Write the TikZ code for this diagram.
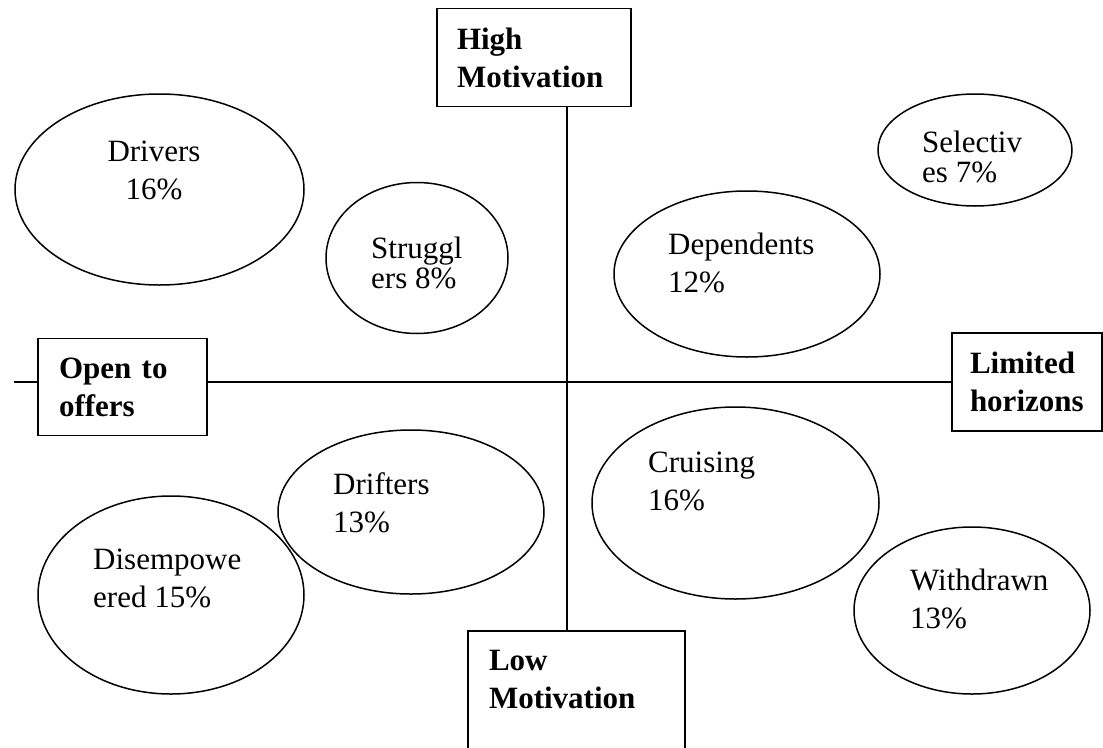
\documentclass[tikz,border=0pt]{standalone}
\usepackage{fontspec}
\setmainfont{Liberation Serif}
\usetikzlibrary{shapes.geometric}

\begin{document}
\begin{tikzpicture}[x=1pt,y=-1pt,
    every node/.style={font=\fontsize{31}{38}\selectfont},
    seg/.style={draw,ellipse,line width=1.5pt,inner sep=0pt},
    lbl/.style={inner sep=0pt,anchor=base west,align=left},
    tight/.style={font=\fontsize{31}{30}\selectfont},
    axbox/.style={draw,line width=1.8pt,align=left,inner ysep=19pt,font=\bfseries\fontsize{31}{38}\selectfont},
    axis/.style={line width=1.5pt}]
    \useasboundingbox (0,0) rectangle (1103,747);
    \clip (0,0) rectangle (1103,747);
    % axis boxes
    \node[axbox,inner xsep=20pt,text width=154pt,minimum height=97pt] (hi) at (534,57.5) {High\\Motivation};
    \node[axbox,inner xsep=21pt,text width=127pt,minimum height=96pt] (open) at (122.5,387) {Open to\\offers};
    \node[axbox,inner xsep=18pt,text width=114pt,minimum height=96pt] (lim) at (1027,382) {Limited\\horizons};
    \node[axbox,inner xsep=21pt,text width=175pt,text depth=100pt,anchor=north] (lo) at (576.5,630) {Low\\Motivation};
    \coordinate (ctr) at (567,382);
    \coordinate (lend) at (14,382);
    \draw[axis] (hi.south -| ctr) -- (lo.north -| ctr);
    \draw[axis] (lend) -- (open.west |- ctr);
    \draw[axis] (open.east |- ctr) -- (lim.west |- ctr);
    % segments
    \node[seg,minimum width=289pt,minimum height=191pt] (drv) at (159.5,189.5) {};
    \node[seg,minimum width=182pt,minimum height=151pt] (strg) at (417,258) {};
    \node[seg,minimum width=266pt,minimum height=166pt] (dep) at (747,274) {};
    \node[seg,minimum width=194pt,minimum height=112pt] (sel) at (975,150) {};
    \node[seg,minimum width=266pt,minimum height=164pt] (drf) at (411,512) {};
    \node[seg,minimum width=287pt,minimum height=192pt] (cru) at (735.5,503) {};
    \node[seg,minimum width=266pt,minimum height=198pt] (dis) at (171,595) {};
    \node[seg,minimum width=236pt,minimum height=167pt] (wdr) at (972,610.5) {};
    \node[lbl,anchor=base,align=center] (drvtxt) at (154,199) {Drivers\\16\%};
    \node[lbl,tight] (strgtxt) at (371,288) {Struggl\\ers 8\%};
    \node[lbl] (deptxt) at (668,292) {Dependents\\12\%};
    \node[lbl,tight] (seltxt) at (922,182) {Selectiv\\es 7\%};
    \node[lbl] (drftxt) at (333,532) {Drifters\\13\%};
    \node[lbl] (crutxt) at (648,510) {Cruising\\16\%};
    \node[lbl] (distxt) at (93,607) {Disempowe\\ered 15\%};
    \node[lbl] (wdrtxt) at (910,628) {Withdrawn\\13\%};
\end{tikzpicture}
\end{document}
